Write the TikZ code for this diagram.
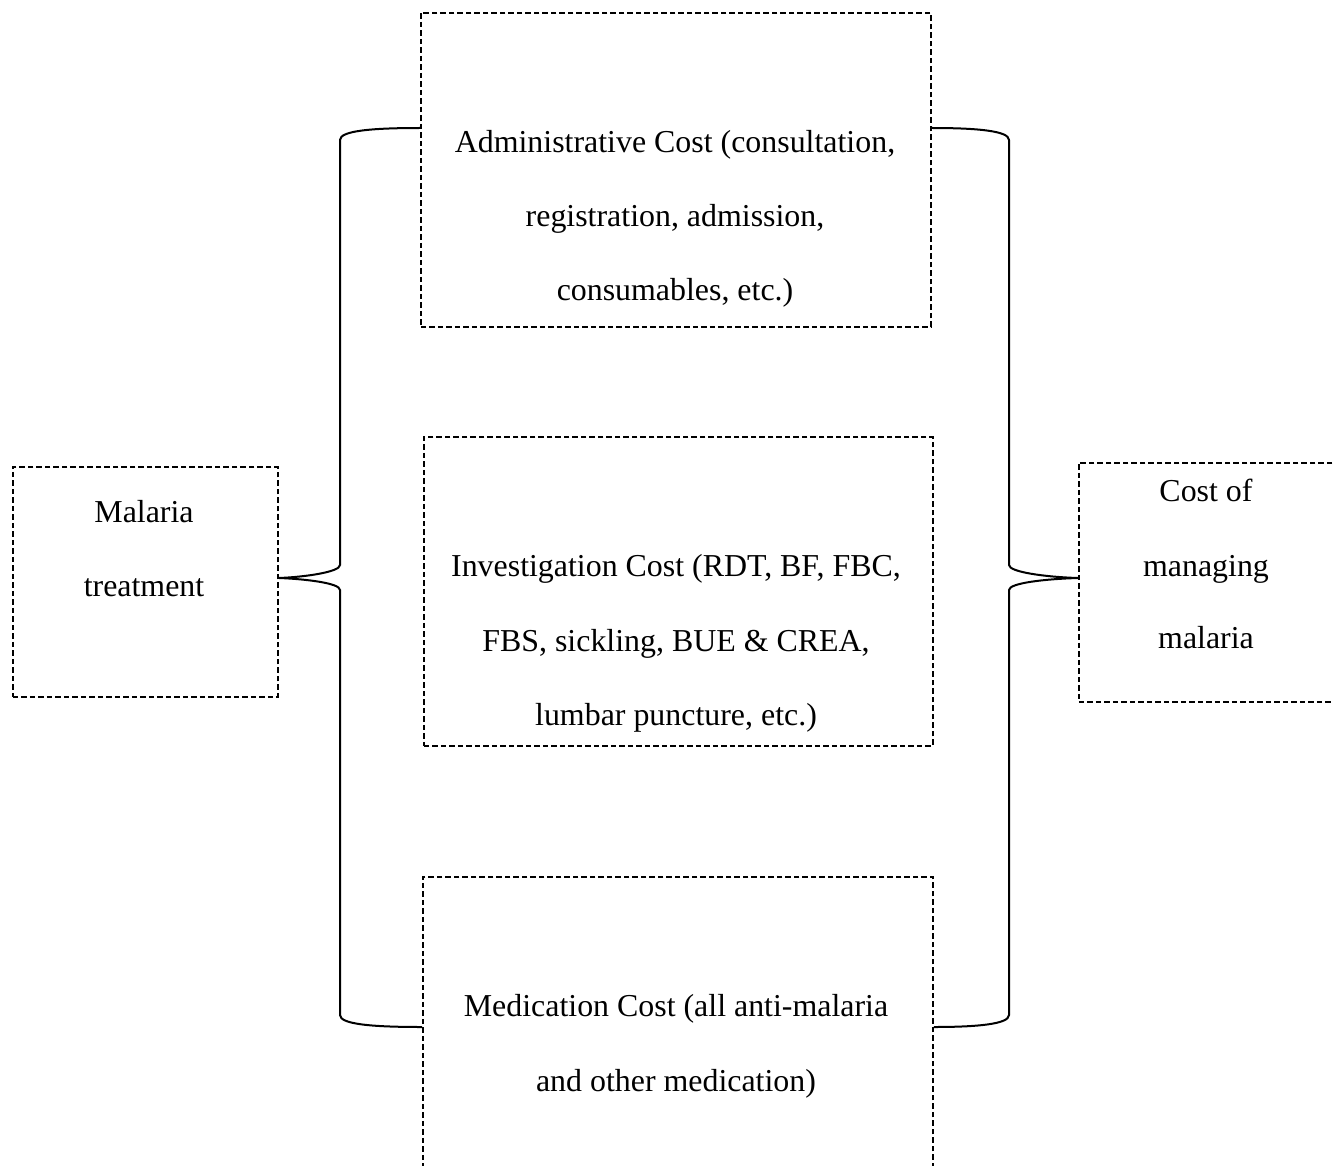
\documentclass[tikz,border=0pt]{standalone}
\usepackage{fontspec}
\setmainfont{Liberation Serif}
\begin{document}
\begin{tikzpicture}[x=1pt,y=-1pt,
  dbox/.style={draw=black,line width=1.9pt,dash pattern=on 5.5pt off 3pt,rectangle,inner sep=0pt,anchor=north west},
  lbl/.style={anchor=base,inner sep=0pt,font=\fontsize{31.9}{38}\selectfont},
  brace/.style={draw=black,line width=2pt}]
\useasboundingbox (0,0) rectangle (1333,1166);
% boxes
\node[dbox,minimum width=265pt,minimum height=230pt] (lt) at (12,466) {};
\node[dbox,minimum width=510pt,minimum height=314pt] (a1) at (420,12) {};
\node[dbox,minimum width=509pt,minimum height=309pt] (a2) at (423,436) {};
\node[dbox,minimum width=510pt,minimum height=300pt] (a3) at (422,876) {};
\node[dbox,minimum width=258pt,minimum height=239pt] (rt) at (1078,462) {};
% texts
\node[lbl] (t1a) at (675,152.5) {Administrative Cost (consultation,};
\node[lbl] (t1b) at (675,227) {registration, admission,};
\node[lbl] (t1c) at (675,300.5) {consumables, etc.)};
\node[lbl] (t2a) at (676,576.5) {Investigation Cost (RDT, BF, FBC,};
\node[lbl] (t2b) at (676,651) {FBS, sickling, BUE \& CREA,};
\node[lbl] (t2c) at (676,725) {lumbar puncture, etc.)};
\node[lbl] (t3a) at (676,1016) {Medication Cost (all anti-malaria};
\node[lbl] (t3b) at (676,1091) {and other medication)};
\node[lbl] (tla) at (144,522.5) {Malaria};
\node[lbl] (tlb) at (144,596.5) {treatment};
\node[lbl] (tra) at (1206,501.5) {Cost of};
\node[lbl] (trb) at (1206,576.5) {managing};
\node[lbl] (trc) at (1206,648.5) {malaria};
% brace anchor points
\coordinate (lbt) at (a1.west |- 0,128);
\coordinate (lbb) at (a3.west |- 0,1027);
\coordinate (lbtip) at (lt.east |- 0,578);
\coordinate (rbt) at (a1.east |- 0,128);
\coordinate (rbb) at (a3.east |- 0,1027);
\coordinate (rbtip) at (rt.west |- 0,578);
% left brace
\draw[brace] (lbt) .. controls (370,128) and (340,131) .. (340,140)
  -- (340,565) .. controls (340,572) and (305,577) .. (lbtip)
  .. controls (305,579) and (340,583) .. (340,590)
  -- (340,1015) .. controls (340,1024) and (370,1027) .. (lbb);
% right brace
\draw[brace] (rbt) .. controls (978,128) and (1009,131) .. (1009,140)
  -- (1009,565) .. controls (1009,572) and (1045,577) .. (rbtip)
  .. controls (1045,579) and (1009,583) .. (1009,590)
  -- (1009,1015) .. controls (1009,1024) and (978,1027) .. (rbb);
\end{tikzpicture}
\end{document}
